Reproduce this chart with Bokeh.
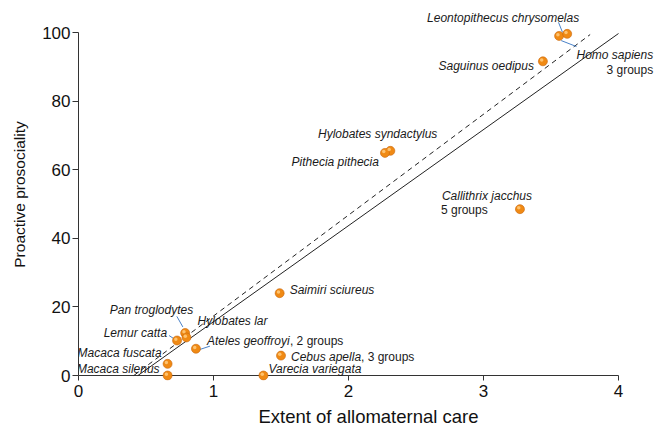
from bokeh.plotting import figure
from bokeh.models import Range1d, FixedTicker
from bokeh.core.properties import value
from bokeh.embed import file_html
from bokeh.resources import INLINE

# ---------------- data ----------------
species = ["Leontopithecus chrysomelas", "Homo sapiens", "Saguinus oedipus",
           "Hylobates syndactylus", "Pithecia pithecia", "Callithrix jacchus",
           "Saimiri sciureus", "Pan troglodytes", "Hylobates lar", "Lemur catta",
           "Ateles geoffroyi", "Macaca fuscata", "Cebus apella", "Macaca silenus",
           "Varecia variegata"]
allomaternal_care = [3.56, 3.62, 3.44, 2.31, 2.27, 3.27, 1.49, 0.79, 0.80, 0.73,
                     0.87, 0.66, 1.50, 0.66, 1.37]
proactive_prosociality = [99.0, 99.6, 91.6, 65.5, 64.9, 48.5, 24.0, 12.4, 11.1, 10.2,
                          7.8, 3.4, 5.8, 0.0, 0.0]
group_notes = ["", "3 groups", "", "", "", "5 groups", "", "", "", "",
               "2 groups", "", "3 groups", "", ""]

# regression lines (end points)
solid_x = [0.44, 4.0]
solid_y = [0.0, 99.7]
dashed_x = [0.41, 3.79]
dashed_y = [0.0, 99.4]

x_ticks = [0, 1, 2, 3, 4]
y_ticks = [0, 20, 40, 60, 80, 100]

# ---------------- layout (screen-pixel offsets from each point) ----------------
name_layout = {
    "Leontopithecus chrysomelas": (-56, -18, "center"),
    "Homo sapiens": (86, 21, "right"),
    "Saguinus oedipus": (-9, 5, "right"),
    "Hylobates syndactylus": (47, -17, "right"),
    "Pithecia pithecia": (-6, 9, "right"),
    "Callithrix jacchus": (-78, -13, "left"),
    "Saimiri sciureus": (10, -3, "left"),
    "Pan troglodytes": (8, -23, "right"),
    "Hylobates lar": (11, -16, "left"),
    "Lemur catta": (-10, -8, "right"),
    "Ateles geoffroyi": (11, -8, "left"),
    "Macaca fuscata": (-6, -11, "right"),
    "Cebus apella": (10, 1, "left"),
    "Macaca silenus": (-8, -7, "right"),
    "Varecia variegata": (5, -7, "left"),
}
# (dx, dy, align, inline)
note_layout = {
    "Homo sapiens": (86, 36, "right", False),
    "Callithrix jacchus": (-79, 1, "left", False),
    "Ateles geoffroyi": (94, -8, "left", True),
    "Cebus apella": (80, 1, "left", True),
}
leader_layout = {
    "Leontopithecus chrysomelas": ((-0.6, -13.6), (3.4, -3.6)),
    "Homo sapiens": ((-6, 6.7), (9.3, 12.7)),
    "Pan troglodytes": ((-8.3, -16.6), (-2.3, -6)),
    "Lemur catta": ((-8, -5), (-3, -1.7)),
    "Ateles geoffroyi": ((4, 0.7), (14, -2.6)),
}

LEFT, TOP = 78, 8
FW, FH = 580, 372
TICK = 5                       # x tick length below the y=0 axis line
PX_X = 135.0
PX_Y = 3.43
X0, X1 = 0.0, FW / PX_X
Y0 = -TICK / PX_Y
Y1 = Y0 + FH / PX_Y

FONT = "Liberation Sans"
AXC = "#333333"

p = figure(frame_width=FW, frame_height=FH, output_backend="svg", toolbar_location=None,
           x_range=Range1d(X0, X1), y_range=Range1d(Y0, Y1),
           min_border_left=LEFT, min_border_bottom=0,
           min_border_top=TOP, min_border_right=0)
p.outline_line_color = None
p.border_fill_color = "white"
p.xgrid.visible = False
p.ygrid.visible = False

for ax in (p.xaxis, p.yaxis):
    ax.axis_line_color = AXC
    ax.major_tick_line_color = AXC
    ax.minor_tick_line_color = None
    ax.major_label_text_font = FONT
    ax.major_label_text_font_size = "17px"
    ax.major_label_text_color = "#111111"
    ax.axis_label_text_font = FONT
    ax.axis_label_text_font_style = "normal"
    ax.axis_label_text_color = "#111111"

p.xaxis.ticker = FixedTicker(ticks=x_ticks)
p.yaxis.ticker = FixedTicker(ticks=y_ticks)
p.yaxis.bounds = (0, 100)
# x axis: line drawn at y = 0, ticks reach from y=0 down to the frame edge
p.xaxis.axis_line_color = None
p.xaxis.major_tick_in = TICK
p.xaxis.major_tick_out = 0
p.xaxis.major_label_standoff = 4
p.yaxis.major_tick_in = 0
p.yaxis.major_tick_out = 6
p.yaxis.major_label_standoff = 2
p.xaxis.axis_label = "Extent of allomaternal care"
p.yaxis.axis_label = "Proactive prosociality"
p.xaxis.axis_label_text_font_size = "18.5px"
p.yaxis.axis_label_text_font_size = "15.5px"
p.xaxis.axis_label_standoff = 6
p.yaxis.axis_label_standoff = 11

p.segment([x_ticks[0]], [0], [x_ticks[-1]], [0], line_color=AXC, line_width=1)

# regression lines
p.line(solid_x, solid_y, line_color="#222222", line_width=1)
p.line(dashed_x, dashed_y, line_color="#222222", line_width=1, line_dash="5 4")

idx = {s: i for i, s in enumerate(species)}

# leader lines
lx0, ly0, lx1, ly1 = [], [], [], []
for s, ((ax_, ay_), (bx_, by_)) in leader_layout.items():
    i = idx[s]
    x, y = allomaternal_care[i], proactive_prosociality[i]
    lx0.append(x + ax_ / PX_X); ly0.append(y - ay_ / PX_Y)
    lx1.append(x + bx_ / PX_X); ly1.append(y - by_ / PX_Y)
p.segment(lx0, ly0, lx1, ly1, line_color="#4A82C8", line_width=1)

# spheres
p.scatter(allomaternal_care, proactive_prosociality, size=9,
          fill_color="#F08A14", line_color="#C8640A", line_width=0.6)
p.scatter([x - 1.2 / PX_X for x in allomaternal_care],
          [y + 1.3 / PX_Y for y in proactive_prosociality],
          size=3.5, fill_color="#FFC878", line_color=None, fill_alpha=0.9)

# species labels
for align in ("left", "right", "center"):
    xs, ys, ts, dxs, dys = [], [], [], [], []
    for s, (dx, dy, al) in name_layout.items():
        if al != align:
            continue
        i = idx[s]
        xs.append(allomaternal_care[i]); ys.append(proactive_prosociality[i])
        ts.append(s); dxs.append(dx); dys.append(dy)
    if xs:
        p.text(xs, ys, text=ts, x_offset=dxs, y_offset=dys, text_align=align,
               text_baseline="middle", text_font=value(FONT),
               text_font_style="italic", text_font_size="12px", text_color="#1a1a1a")

# group notes
for align in ("left", "right"):
    xs, ys, ts, dxs, dys = [], [], [], [], []
    for s, (dx, dy, al, inline) in note_layout.items():
        if al != align:
            continue
        i = idx[s]
        xs.append(allomaternal_care[i]); ys.append(proactive_prosociality[i])
        ts.append((", " if inline else "") + group_notes[i]); dxs.append(dx); dys.append(dy)
    if xs:
        p.text(xs, ys, text=ts, x_offset=dxs, y_offset=dys, text_align=align,
               text_baseline="middle", text_font=value(FONT),
               text_font_size="12px", text_color="#1a1a1a")

open("out.html", "w").write(file_html(p, INLINE))
